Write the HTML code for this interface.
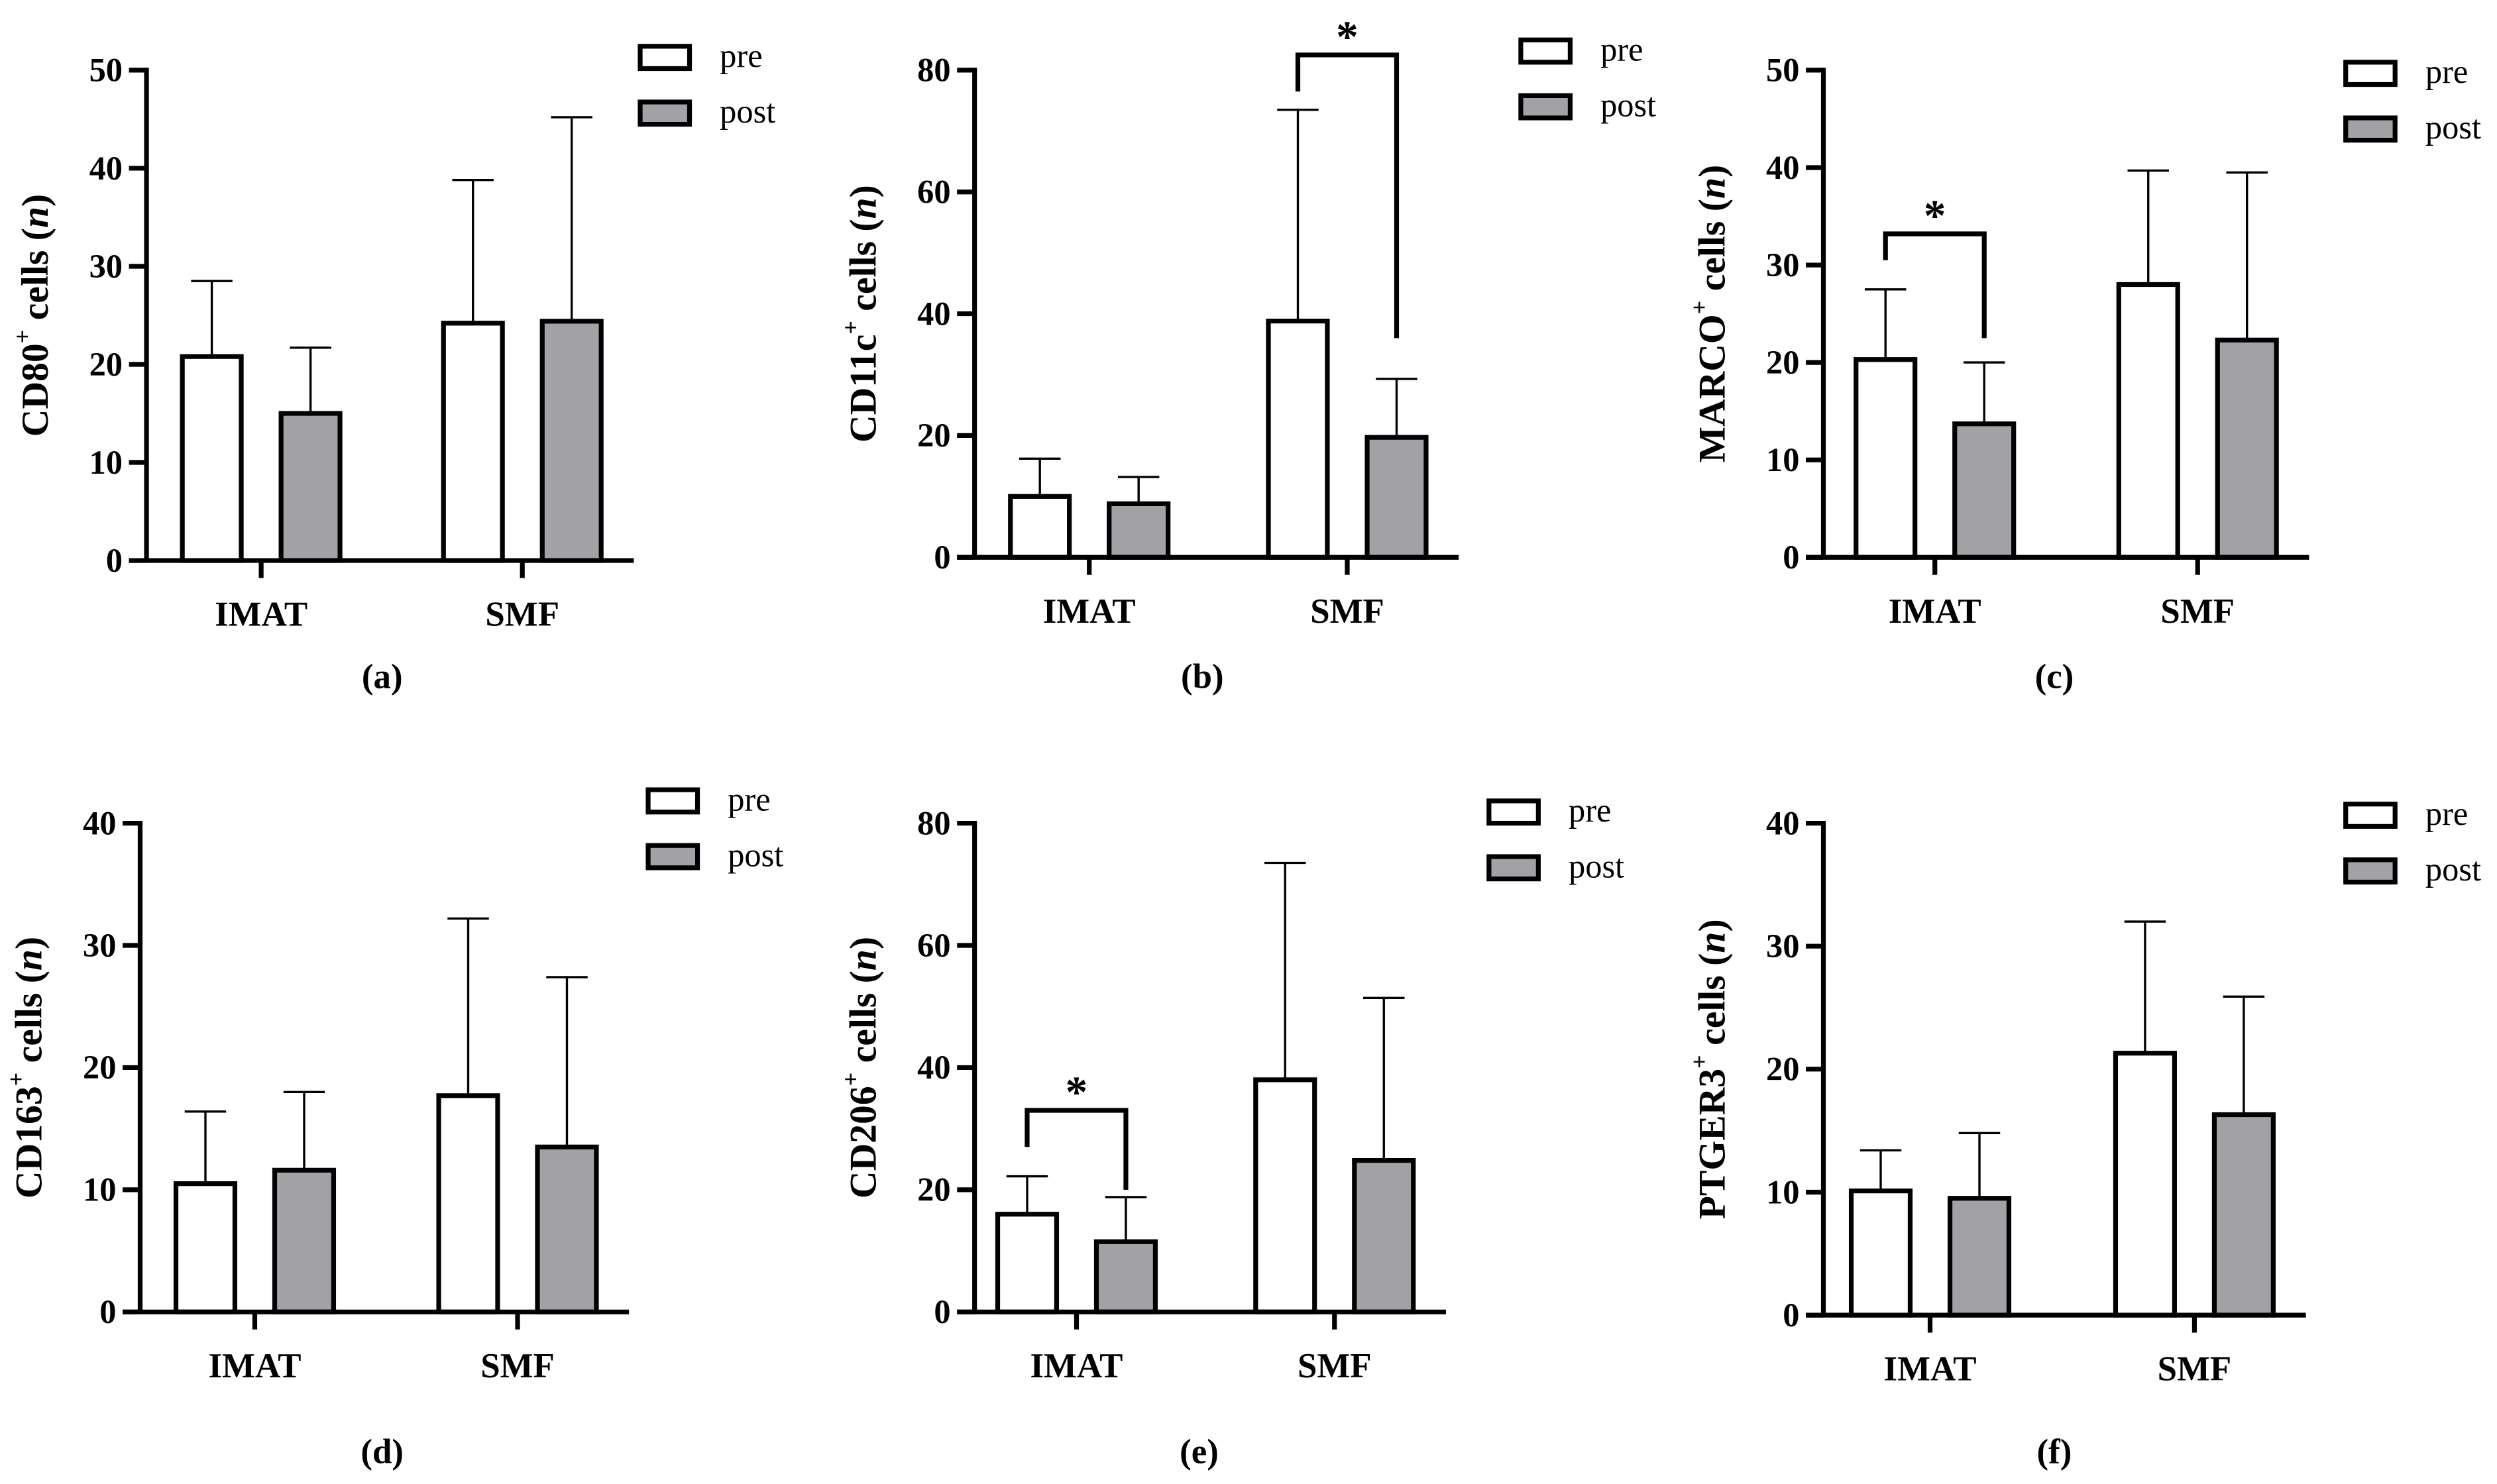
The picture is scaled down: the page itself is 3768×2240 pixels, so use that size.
<!DOCTYPE html>
<html><head><meta charset="utf-8">
<style>
html,body{margin:0;padding:0;background:#fff;}
svg{display:block;font-family:"Liberation Serif",serif;}
</style></head>
<body>
<svg id="fig" width="3768" height="2240" viewBox="0 0 1568 932" xmlns="http://www.w3.org/2000/svg"></svg>
<script>
// Data arrays
const categories = ["IMAT", "SMF"];
const seriesNames = ["pre", "post"];
const panelLetters = ["a","b","c","d","e","f"];
const markers = ["CD80", "CD11c", "MARCO", "CD163", "CD206", "PTGER3"];
const yMaxes = [50, 80, 50, 40, 80, 40];
const yStep = [10, 20, 10, 10, 20, 10];
const preMeans = [[20.8, 24.2],[10.0, 38.8],[20.3, 28.0],[10.5, 17.7],[16.0, 38.0],[10.1, 21.3]];
const preErr   = [[28.5, 38.8],[16.2, 73.5],[27.5, 39.7],[16.4, 32.2],[22.2, 73.5],[13.4, 32.0]];
const postMeans= [[15.0, 24.4],[8.8, 19.7],[13.7, 22.3],[11.6, 13.5],[11.5, 24.8],[9.5, 16.3]];
const postErr  = [[21.7, 45.2],[13.2, 29.3],[20.0, 39.5],[18.0, 27.4],[18.8, 51.4],[14.8, 25.9]];
const sigPanels = [1, 2, 4];
const sigCats = [1, 0, 0];
const sigTop = [82.5, 33.2, 33.0];
const sigLeftEnd = [76.5, 30.5, 27.0];
const sigRightEnd = [36.0, 22.5, 20.0];

const layout = [
 {ax:92, top:44, bot:352, c:[164,328], cap:[240,425], leg:[402,36]},
 {ax:612, top:44, bot:350, c:[684,846], cap:[755,425], leg:[955,32]},
 {ax:1145, top:44, bot:350, c:[1215,1380], cap:[1290,425], leg:[1473,46]},
 {ax:88, top:517, bot:824, c:[160,325], cap:[240,912], leg:[407,503]},
 {ax:612, top:517, bot:824, c:[676,838], cap:[753,912], leg:[935,510]},
 {ax:1145, top:517, bot:826, c:[1212,1378], cap:[1290,912], leg:[1473,512]}
];
const NS = "http://www.w3.org/2000/svg";
const svg = document.getElementById("fig");
function el(tag, attrs, parent){
  const e = document.createElementNS(NS, tag);
  for (const k in attrs) e.setAttribute(k, attrs[k]);
  (parent||svg).appendChild(e);
  return e;
}
layout.forEach((L, p) => {
  const g = el("g", {});
  
  
  const y = v => L.bot - (v / yMaxes[p]) * (L.bot - L.top);
  const bw = 37, off = 31;
  categories.forEach((cat, ci) => {
    [[preMeans, preErr, "#fff", "pre"], [postMeans, postErr, "#a2a2a6", "post"]].forEach((s, si) => {
      const cx = L.c[ci] + (si === 0 ? -off : off);
      const m = s[0][p][ci], e = s[1][p][ci];
      const ln = el("line", {x1:cx, x2:cx, y1:y(e), y2:y(m), stroke:"#000", "stroke-width":1.4}, g);
      
      
      const cp = el("line", {x1:cx-13, x2:cx+13, y1:y(e), y2:y(e), stroke:"#000", "stroke-width":1.4}, g);
      
      
      const r = el("rect", {x:cx-bw/2, y:y(m), width:bw, height:y(0)-y(m), fill:s[2], stroke:"#000", "stroke-width":3}, g);
      
      
    });
    const t = el("line", {x1:L.c[ci], x2:L.c[ci], y1:L.bot, y2:L.bot+11, stroke:"#000", "stroke-width":3}, g);
    
    
    const tx = el("text", {x:L.c[ci], y:L.bot+41, "text-anchor":"middle", "font-size":22, "font-weight":"bold"}, g);
    tx.textContent = cat;
    
    
  });
  const yaxis = el("line", {x1:L.ax, x2:L.ax, y1:L.top-1.5, y2:L.bot, stroke:"#000", "stroke-width":3}, g);
  
  
  const xaxis = el("line", {x1:L.ax-11, x2:L.c[1]+70, y1:L.bot, y2:L.bot, stroke:"#000", "stroke-width":3}, g);
  
  
  for (let v = 0; v <= yMaxes[p]; v += yStep[p]) {
    const tk = el("line", {x1:L.ax-11, x2:L.ax, y1:y(v), y2:y(v), stroke:"#000", "stroke-width":3}, g);
    
    
    const tl = el("text", {x:L.ax-15, y:y(v)+7, "text-anchor":"end", "font-size":21, "font-weight":"bold"}, g);
    tl.textContent = v;
    
    
  }
  const cy = (L.top + L.bot) / 2;
  const yt = el("text", {x:0, y:0, transform:`translate(${L.ax-62},${cy}) rotate(-90)`, "text-anchor":"middle", "font-size":24, "font-weight":"bold"}, g);
  
  
  const t1 = el("tspan", {}, yt); t1.textContent = markers[p];
  const t2 = el("tspan", {"font-size":15, dy:-11}, yt); t2.textContent = "+";
  const t3 = el("tspan", {dy:11}, yt); t3.textContent = " cells (";
  const t4 = el("tspan", {"font-style":"italic"}, yt); t4.textContent = "n";
  const t5 = el("tspan", {}, yt); t5.textContent = ")";
  seriesNames.forEach((sn, si) => {
    const ly = L.leg[1] + si * 35;
    const lr = el("rect", {x:L.leg[0], y:ly-7, width:31, height:14, fill: si ? "#a2a2a6" : "#fff", stroke:"#000", "stroke-width":3}, g);
    
    
    const lt = el("text", {x:L.leg[0]+50, y:ly+6, "font-size":21}, g);
    lt.textContent = sn;
    
    
  });
  const cap = el("text", {x:L.cap[0], y:L.cap[1]+7, "text-anchor":"middle", "font-size":22, "font-weight":"bold"}, g);
  cap.textContent = "(" + panelLetters[p] + ")";
  
  
  const si = sigPanels.indexOf(p);
  if (si >= 0) {
    const ci = sigCats[si];
    const xl = L.c[ci] - off, xr = L.c[ci] + off;
    const br = el("polyline", {points:`${xl},${y(sigLeftEnd[si])} ${xl},${y(sigTop[si])} ${xr},${y(sigTop[si])} ${xr},${y(sigRightEnd[si])}`, fill:"none", stroke:"#000", "stroke-width":3}, g);
    
    
    const st = el("text", {x:(xl+xr)/2, y:y(sigTop[si])-2, "text-anchor":"middle", "font-size":28, "font-weight":"bold"}, g);
    st.textContent = "*";
    
    
  }
});
</script>
</body></html>
